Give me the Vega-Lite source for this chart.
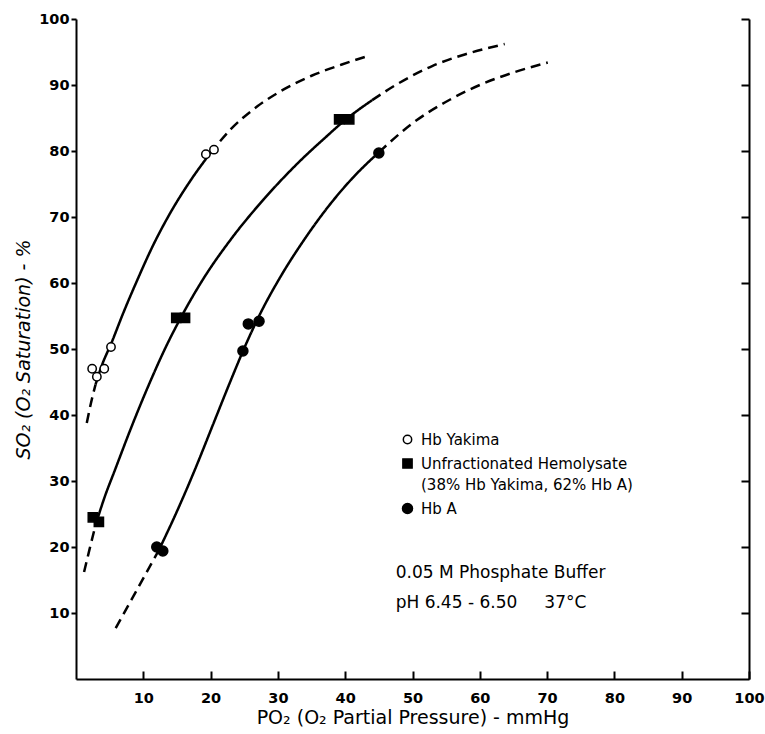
{
  "$schema": "https://vega.github.io/schema/vega-lite/v6.json",
  "width": 673,
  "height": 660,
  "autosize": {"type": "none"},
  "padding": {"left": 76, "top": 19, "right": 16, "bottom": 55},
  "background": "white",
  "config": {"view": {"stroke": null}, "font": "DejaVu Sans"},
  "datasets": {
    "measurements": [
      {"sample": "Hb Yakima", "po2": 2.4, "so2": 47.0},
      {"sample": "Hb Yakima", "po2": 3.1, "so2": 45.8},
      {"sample": "Hb Yakima", "po2": 4.2, "so2": 47.0},
      {"sample": "Hb Yakima", "po2": 5.2, "so2": 50.3},
      {"sample": "Hb Yakima", "po2": 19.3, "so2": 79.5},
      {"sample": "Hb Yakima", "po2": 20.5, "so2": 80.2},
      {"sample": "Unfractionated Hemolysate", "po2": 2.5, "so2": 24.5},
      {"sample": "Unfractionated Hemolysate", "po2": 3.4, "so2": 23.8},
      {"sample": "Unfractionated Hemolysate", "po2": 14.9, "so2": 54.7},
      {"sample": "Unfractionated Hemolysate", "po2": 16.2, "so2": 54.7},
      {"sample": "Unfractionated Hemolysate", "po2": 39.1, "so2": 84.8},
      {"sample": "Unfractionated Hemolysate", "po2": 40.6, "so2": 84.8},
      {"sample": "Hb A", "po2": 12.0, "so2": 20.0},
      {"sample": "Hb A", "po2": 12.9, "so2": 19.4},
      {"sample": "Hb A", "po2": 24.8, "so2": 49.7},
      {"sample": "Hb A", "po2": 25.6, "so2": 53.8},
      {"sample": "Hb A", "po2": 27.2, "so2": 54.2},
      {"sample": "Hb A", "po2": 45.0, "so2": 79.7}
    ],
    "curves": [
      {"segment": "yak-lo", "part": "extrapolated", "po2": 1.6, "so2": 38.8},
      {"segment": "yak-lo", "part": "extrapolated", "po2": 2.2, "so2": 41.7},
      {"segment": "yak-lo", "part": "extrapolated", "po2": 2.9, "so2": 44.6},
      {"segment": "yak-fit", "part": "fitted", "po2": 2.9, "so2": 44.6},
      {"segment": "yak-fit", "part": "fitted", "po2": 3.8, "so2": 47.4},
      {"segment": "yak-fit", "part": "fitted", "po2": 5.3, "so2": 51.0},
      {"segment": "yak-fit", "part": "fitted", "po2": 7.0, "so2": 55.4},
      {"segment": "yak-fit", "part": "fitted", "po2": 9.0, "so2": 60.2},
      {"segment": "yak-fit", "part": "fitted", "po2": 11.5, "so2": 65.8},
      {"segment": "yak-fit", "part": "fitted", "po2": 14.0, "so2": 70.6},
      {"segment": "yak-fit", "part": "fitted", "po2": 17.0, "so2": 75.5},
      {"segment": "yak-fit", "part": "fitted", "po2": 19.9, "so2": 79.6},
      {"segment": "yak-hi", "part": "extrapolated", "po2": 19.9, "so2": 79.6},
      {"segment": "yak-hi", "part": "extrapolated", "po2": 23.0, "so2": 83.3},
      {"segment": "yak-hi", "part": "extrapolated", "po2": 27.0, "so2": 86.8},
      {"segment": "yak-hi", "part": "extrapolated", "po2": 31.0, "so2": 89.4},
      {"segment": "yak-hi", "part": "extrapolated", "po2": 35.0, "so2": 91.4},
      {"segment": "yak-hi", "part": "extrapolated", "po2": 39.5, "so2": 93.1},
      {"segment": "yak-hi", "part": "extrapolated", "po2": 43.7, "so2": 94.5},
      {"segment": "mix-lo", "part": "extrapolated", "po2": 1.2, "so2": 16.2},
      {"segment": "mix-lo", "part": "extrapolated", "po2": 2.0, "so2": 19.6},
      {"segment": "mix-lo", "part": "extrapolated", "po2": 2.9, "so2": 23.3},
      {"segment": "mix-fit", "part": "fitted", "po2": 2.9, "so2": 23.3},
      {"segment": "mix-fit", "part": "fitted", "po2": 4.2, "so2": 27.4},
      {"segment": "mix-fit", "part": "fitted", "po2": 5.8, "so2": 31.7},
      {"segment": "mix-fit", "part": "fitted", "po2": 8.4, "so2": 38.6},
      {"segment": "mix-fit", "part": "fitted", "po2": 11.0, "so2": 45.0},
      {"segment": "mix-fit", "part": "fitted", "po2": 13.3, "so2": 50.2},
      {"segment": "mix-fit", "part": "fitted", "po2": 15.5, "so2": 54.6},
      {"segment": "mix-fit", "part": "fitted", "po2": 18.9, "so2": 60.6},
      {"segment": "mix-fit", "part": "fitted", "po2": 23.0, "so2": 66.6},
      {"segment": "mix-fit", "part": "fitted", "po2": 28.0, "so2": 72.8},
      {"segment": "mix-fit", "part": "fitted", "po2": 33.0, "so2": 78.2},
      {"segment": "mix-fit", "part": "fitted", "po2": 37.0, "so2": 82.0},
      {"segment": "mix-fit", "part": "fitted", "po2": 40.0, "so2": 84.7},
      {"segment": "mix-fit", "part": "fitted", "po2": 44.0, "so2": 87.7},
      {"segment": "mix-hi", "part": "extrapolated", "po2": 44.0, "so2": 87.7},
      {"segment": "mix-hi", "part": "extrapolated", "po2": 48.0, "so2": 90.3},
      {"segment": "mix-hi", "part": "extrapolated", "po2": 53.0, "so2": 92.9},
      {"segment": "mix-hi", "part": "extrapolated", "po2": 58.0, "so2": 94.7},
      {"segment": "mix-hi", "part": "extrapolated", "po2": 63.7, "so2": 96.2},
      {"segment": "hba-lo", "part": "extrapolated", "po2": 5.9, "so2": 7.7},
      {"segment": "hba-lo", "part": "extrapolated", "po2": 9.0, "so2": 13.4},
      {"segment": "hba-lo", "part": "extrapolated", "po2": 12.3, "so2": 19.5},
      {"segment": "hba-fit", "part": "fitted", "po2": 12.3, "so2": 19.5},
      {"segment": "hba-fit", "part": "fitted", "po2": 15.0, "so2": 25.4},
      {"segment": "hba-fit", "part": "fitted", "po2": 17.7, "so2": 31.8},
      {"segment": "hba-fit", "part": "fitted", "po2": 20.3, "so2": 38.4},
      {"segment": "hba-fit", "part": "fitted", "po2": 22.9, "so2": 45.0},
      {"segment": "hba-fit", "part": "fitted", "po2": 25.2, "so2": 50.6},
      {"segment": "hba-fit", "part": "fitted", "po2": 27.3, "so2": 55.2},
      {"segment": "hba-fit", "part": "fitted", "po2": 30.3, "so2": 60.8},
      {"segment": "hba-fit", "part": "fitted", "po2": 34.0, "so2": 66.7},
      {"segment": "hba-fit", "part": "fitted", "po2": 37.5, "so2": 71.6},
      {"segment": "hba-fit", "part": "fitted", "po2": 41.0, "so2": 75.8},
      {"segment": "hba-fit", "part": "fitted", "po2": 45.0, "so2": 79.8},
      {"segment": "hba-hi", "part": "extrapolated", "po2": 45.0, "so2": 79.8},
      {"segment": "hba-hi", "part": "extrapolated", "po2": 50.0, "so2": 84.2},
      {"segment": "hba-hi", "part": "extrapolated", "po2": 55.6, "so2": 87.8},
      {"segment": "hba-hi", "part": "extrapolated", "po2": 60.0, "so2": 90.0},
      {"segment": "hba-hi", "part": "extrapolated", "po2": 65.0, "so2": 91.9},
      {"segment": "hba-hi", "part": "extrapolated", "po2": 70.1, "so2": 93.4}
    ]
  },
  "layer": [
    {
      "data": {"name": "curves"},
      "mark": {"type": "line", "interpolate": "monotone", "color": "black", "strokeWidth": 2.5, "strokeCap": "butt"},
      "encoding": {
        "x": {
          "field": "po2", "type": "quantitative",
          "scale": {"domain": [0, 100], "nice": false, "zero": false},
          "axis": {
            "orient": "bottom", "values": [10, 20, 30, 40, 50, 60, 70, 80, 90, 100],
            "grid": false, "tickSize": -8, "tickWidth": 2, "tickColor": "black",
            "domainColor": "black", "domainWidth": 2,
            "labelFont": "DejaVu Sans", "labelFontSize": 14.5, "labelFontWeight": "bold", "labelColor": "black",
            "labelPadding": 20, "labelFlush": false,
            "title": "PO₂ (O₂ Partial Pressure) - mmHg",
            "titleFont": "DejaVu Sans", "titleFontSize": 19, "titleFontWeight": "normal", "titleColor": "black",
            "titlePadding": 4
          }
        },
        "y": {
          "field": "so2", "type": "quantitative",
          "scale": {"domain": [0, 100], "nice": false, "zero": false},
          "axis": {
            "orient": "left", "values": [10, 20, 30, 40, 50, 60, 70, 80, 90, 100],
            "grid": false, "tickSize": 5, "tickWidth": 2, "tickColor": "black",
            "domainColor": "black", "domainWidth": 2,
            "labelFont": "DejaVu Sans", "labelFontSize": 14.5, "labelFontWeight": "bold", "labelColor": "black",
            "labelPadding": 2, "labelFlush": false,
            "title": "SO₂ (O₂ Saturation) - %",
            "titleFont": "DejaVu Sans", "titleFontSize": 19, "titleFontWeight": "normal", "titleFontStyle": "italic", "titleColor": "black",
            "titlePadding": 5
          }
        },
        "detail": {"field": "segment", "type": "nominal"},
        "strokeDash": {
          "field": "part", "type": "nominal",
          "scale": {"domain": ["fitted", "extrapolated"], "range": [[1, 0], [10, 6]]},
          "legend": null
        }
      }
    },
    {
      "data": {"name": "measurements"},
      "mark": {"type": "point", "stroke": "black", "strokeWidth": 1.5, "opacity": 1, "fillOpacity": 1},
      "encoding": {
        "x": {"field": "po2", "type": "quantitative"},
        "y": {
          "field": "so2", "type": "quantitative",
          "axis": {
            "orient": "right", "values": [10, 20, 30, 40, 50, 60, 70, 80, 90, 100],
            "labels": false, "grid": false, "tickSize": -8, "tickWidth": 2, "tickColor": "black",
            "domainColor": "black", "domainWidth": 2, "title": null
          }
        },
        "shape": {
          "field": "sample", "type": "nominal",
          "scale": {"domain": ["Hb Yakima", "Unfractionated Hemolysate", "Hb A"], "range": ["circle", "square", "circle"]},
          "legend": {
            "orient": "none", "legendX": 324, "legendY": 413, "title": null,
            "labelFont": "DejaVu Sans", "labelFontSize": 15, "labelColor": "black", "labelLimit": 400,
            "labelOffset": 6, "rowPadding": 7,
            "symbolStrokeColor": "black", "symbolStrokeWidth": 1.5, "symbolOpacity": 1,
            "labelExpr": "datum.label == 'Unfractionated Hemolysate' ? ['Unfractionated Hemolysate', '(38% Hb Yakima, 62% Hb A)'] : datum.label",
            "encode": {
              "symbols": {"update": {"stroke": {"value": "black"}, "strokeWidth": {"value": 1.5}}},
              "labels": {"update": {"lineHeight": {"value": 21}}}
            }
          }
        },
        "fill": {
          "field": "sample", "type": "nominal",
          "scale": {"domain": ["Hb Yakima", "Unfractionated Hemolysate", "Hb A"], "range": ["white", "black", "black"]},
          "legend": {
            "orient": "none", "legendX": 324, "legendY": 413, "title": null,
            "labelFont": "DejaVu Sans", "labelFontSize": 15, "labelColor": "black", "labelLimit": 400,
            "labelOffset": 6, "rowPadding": 7,
            "symbolStrokeColor": "black", "symbolStrokeWidth": 1.5, "symbolOpacity": 1,
            "labelExpr": "datum.label == 'Unfractionated Hemolysate' ? ['Unfractionated Hemolysate', '(38% Hb Yakima, 62% Hb A)'] : datum.label",
            "encode": {
              "symbols": {"update": {"stroke": {"value": "black"}, "strokeWidth": {"value": 1.5}}},
              "labels": {"update": {"lineHeight": {"value": 21}}}
            }
          }
        },
        "size": {
          "field": "sample", "type": "nominal",
          "scale": {"domain": ["Hb Yakima", "Unfractionated Hemolysate", "Hb A"], "range": [70, 100, 60]},
          "legend": {
            "orient": "none", "legendX": 324, "legendY": 413, "title": null,
            "labelFont": "DejaVu Sans", "labelFontSize": 15, "labelColor": "black", "labelLimit": 400,
            "labelOffset": 6, "rowPadding": 7,
            "symbolStrokeColor": "black", "symbolStrokeWidth": 1.5, "symbolOpacity": 1,
            "labelExpr": "datum.label == 'Unfractionated Hemolysate' ? ['Unfractionated Hemolysate', '(38% Hb Yakima, 62% Hb A)'] : datum.label",
            "encode": {
              "symbols": {"update": {"stroke": {"value": "black"}, "strokeWidth": {"value": 1.5}}},
              "labels": {"update": {"lineHeight": {"value": 21}}}
            }
          }
        }
      }
    },
    {
      "data": {"values": [{"note": "buffer conditions"}]},
      "mark": {
        "type": "text", "align": "left", "baseline": "middle", "font": "DejaVu Sans", "fontSize": 17,
        "color": "black", "lineHeight": 30,
        "text": ["0.05 M Phosphate Buffer", "pH 6.45 - 6.50\u00a0\u00a0\u00a0\u00a0\u00a037°C"]
      },
      "encoding": {
        "x": {"datum": 47.5, "type": "quantitative"},
        "y": {"datum": 16.1, "type": "quantitative", "axis": null}
      }
    }
  ],
  "resolve": {"axis": {"y": "independent"}}
}
